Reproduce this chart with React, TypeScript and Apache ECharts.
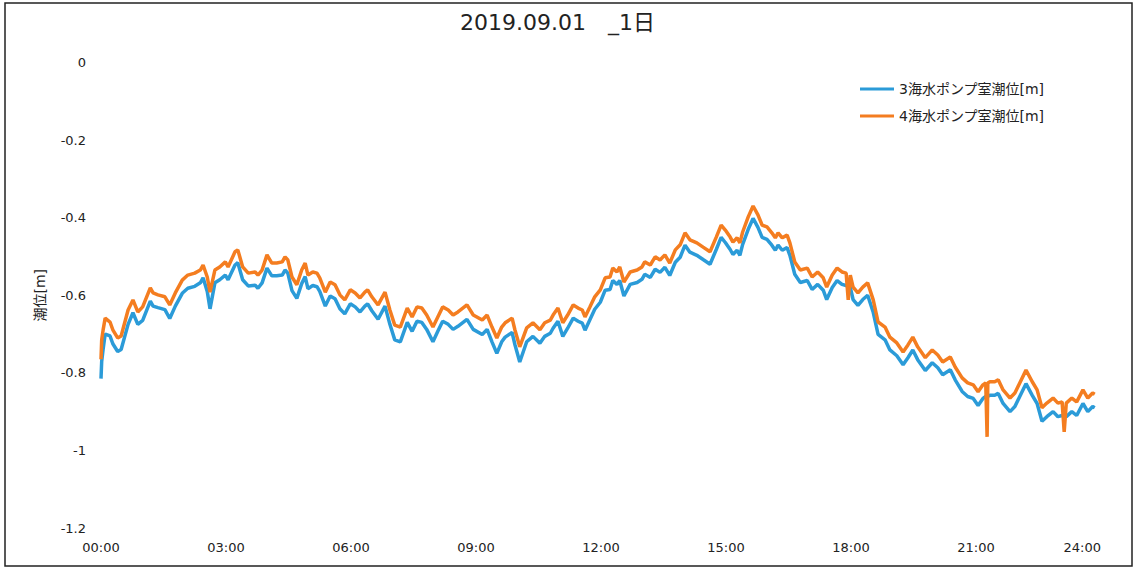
import React, { useEffect, useRef } from "react";
import * as echarts from "echarts";

const TITLE = "2019.09.01\u3000_1日";
const SERIES_NAMES = ["3海水ポンプ室潮位[m]", "4海水ポンプ室潮位[m]"];
const Y_NAME = "潮位[m]";

// time in minutes since 00:00
const TIMES = [
  0, 1, 3, 6, 13, 17, 24, 29, 39, 46, 53, 60, 71, 75, 82, 92, 99, 107, 117, 125,
  135, 143, 147, 153, 157, 164, 171, 179, 183, 193, 197, 204, 212, 222, 226, 232, 239, 246, 253, 261,
  265, 269, 275, 282, 289, 294, 298, 305, 311, 315, 323, 330, 337, 344, 351, 359, 366, 373, 380, 384,
  390, 399, 409, 416, 423, 431, 441, 448, 455, 462, 469, 478, 485, 492, 500, 507, 514, 527, 536, 549,
  556, 563, 570, 577, 582, 592, 596, 603, 613, 622, 632, 639, 647, 651, 658, 665, 672, 680, 687, 693,
  697, 704, 711, 719, 726, 733, 737, 743, 747, 753, 762, 772, 779, 783, 791, 798, 805, 812, 819, 827,
  834, 841, 848, 858, 867, 877, 886, 893, 899, 906, 910, 916, 920, 924, 932, 939, 946, 952, 959, 966,
  971, 975, 981, 988, 992, 999, 1007, 1017, 1024, 1032, 1040, 1045, 1053, 1060, 1067, 1073, 1076, 1079, 1083, 1090,
  1097, 1104, 1112, 1119, 1129, 1136, 1146, 1155, 1162, 1169, 1176, 1187, 1197, 1205, 1212, 1223, 1230, 1240, 1248, 1256,
  1263, 1270, 1274, 1276, 1277, 1280, 1287, 1292, 1299, 1309, 1316, 1323, 1332, 1341, 1348, 1355, 1362, 1371, 1378, 1384,
  1387, 1390, 1398, 1405, 1414, 1421, 1428, 1431,
];

const PUMP3 = [
  -0.815, -0.77, -0.74, -0.7, -0.705, -0.725, -0.745, -0.74, -0.675, -0.645, -0.675, -0.665, -0.615, -0.628, -0.632, -0.637, -0.66, -0.628, -0.595, -0.582,
  -0.577, -0.568, -0.555, -0.59, -0.635, -0.568, -0.56, -0.548, -0.56, -0.522, -0.516, -0.56, -0.576, -0.574, -0.582, -0.568, -0.53, -0.55, -0.55, -0.548,
  -0.535, -0.543, -0.588, -0.608, -0.57, -0.552, -0.583, -0.575, -0.578, -0.59, -0.628, -0.602, -0.609, -0.635, -0.648, -0.622, -0.63, -0.643, -0.628, -0.622,
  -0.64, -0.662, -0.628, -0.675, -0.715, -0.72, -0.67, -0.693, -0.667, -0.67, -0.688, -0.72, -0.693, -0.667, -0.675, -0.688, -0.68, -0.662, -0.688, -0.701,
  -0.688, -0.72, -0.75, -0.72, -0.708, -0.696, -0.727, -0.772, -0.72, -0.706, -0.724, -0.706, -0.698, -0.685, -0.667, -0.706, -0.685, -0.659, -0.667, -0.672,
  -0.69, -0.663, -0.636, -0.618, -0.587, -0.585, -0.562, -0.572, -0.562, -0.602, -0.572, -0.567, -0.559, -0.546, -0.554, -0.533, -0.541, -0.528, -0.549, -0.515,
  -0.502, -0.471, -0.489, -0.497, -0.508, -0.52, -0.482, -0.451, -0.464, -0.482, -0.495, -0.484, -0.497, -0.469, -0.43, -0.402, -0.425, -0.451, -0.456, -0.471,
  -0.484, -0.471, -0.484, -0.477, -0.497, -0.546, -0.567, -0.562, -0.585, -0.572, -0.587, -0.611, -0.58, -0.562, -0.572, -0.575, -0.578, -0.58, -0.611, -0.626,
  -0.611, -0.6, -0.644, -0.701, -0.715, -0.741, -0.756, -0.779, -0.761, -0.741, -0.766, -0.794, -0.774, -0.787, -0.805, -0.792, -0.818, -0.848, -0.861, -0.866,
  -0.884, -0.866, -0.861, -0.861, -0.861, -0.858, -0.858, -0.853, -0.879, -0.9, -0.887, -0.861, -0.828, -0.858, -0.879, -0.925, -0.913, -0.9, -0.913, -0.91,
  -0.908, -0.913, -0.9, -0.91, -0.879, -0.9, -0.887, -0.89,
];

const PUMP4 = [
  -0.765, -0.715, -0.69, -0.659, -0.669, -0.689, -0.71, -0.705, -0.638, -0.612, -0.643, -0.63, -0.581, -0.594, -0.599, -0.604, -0.625, -0.594, -0.561, -0.548,
  -0.543, -0.535, -0.522, -0.553, -0.592, -0.535, -0.527, -0.514, -0.527, -0.488, -0.483, -0.527, -0.543, -0.54, -0.548, -0.535, -0.496, -0.517, -0.517, -0.514,
  -0.501, -0.509, -0.553, -0.573, -0.535, -0.517, -0.548, -0.54, -0.543, -0.555, -0.592, -0.566, -0.573, -0.599, -0.612, -0.586, -0.594, -0.607, -0.592, -0.586,
  -0.604, -0.625, -0.592, -0.638, -0.677, -0.682, -0.633, -0.656, -0.63, -0.633, -0.651, -0.682, -0.656, -0.63, -0.638, -0.651, -0.643, -0.625, -0.651, -0.664,
  -0.651, -0.682, -0.71, -0.682, -0.671, -0.659, -0.689, -0.733, -0.684, -0.671, -0.689, -0.671, -0.664, -0.651, -0.633, -0.671, -0.651, -0.625, -0.633, -0.638,
  -0.656, -0.63, -0.604, -0.586, -0.555, -0.553, -0.53, -0.54, -0.527, -0.566, -0.54, -0.535, -0.527, -0.514, -0.522, -0.501, -0.509, -0.496, -0.517, -0.483,
  -0.47, -0.439, -0.457, -0.465, -0.476, -0.488, -0.45, -0.419, -0.432, -0.45, -0.463, -0.452, -0.465, -0.437, -0.398, -0.37, -0.393, -0.419, -0.424, -0.439,
  -0.452, -0.439, -0.452, -0.445, -0.465, -0.514, -0.535, -0.53, -0.553, -0.54, -0.555, -0.579, -0.548, -0.53, -0.54, -0.543, -0.612, -0.548, -0.579, -0.594,
  -0.579, -0.568, -0.612, -0.669, -0.682, -0.708, -0.723, -0.746, -0.728, -0.708, -0.733, -0.761, -0.741, -0.754, -0.772, -0.759, -0.785, -0.813, -0.826, -0.831,
  -0.849, -0.831, -0.826, -0.965, -0.826, -0.823, -0.823, -0.818, -0.844, -0.865, -0.852, -0.826, -0.793, -0.823, -0.844, -0.89, -0.878, -0.865, -0.878, -0.875,
  -0.952, -0.878, -0.865, -0.875, -0.844, -0.865, -0.852, -0.855,
];

const COLORS = ["#2b9bd8", "#f47d20"];
const FONT = "'DejaVu Sans', 'Noto Sans CJK JP', sans-serif";

export default function App() {
  const ref = useRef<HTMLDivElement>(null);
  useEffect(() => {
    if (!ref.current) return;
    const chart = echarts.init(ref.current, undefined, { renderer: "svg" });
    const mk = (vals: number[]) => TIMES.map((t, i) => [t, vals[i]]);
    chart.setOption({
      animation: false,
      backgroundColor: "#ffffff",
      textStyle: { fontFamily: FONT },
      title: {
        text: TITLE,
        left: 455,
        top: 6,
        textStyle: { fontFamily: FONT, fontSize: 22, fontWeight: "normal", color: "#222" },
      },
      legend: {
        orient: "vertical",
        left: 855,
        top: 77,
        itemWidth: 34,
        itemHeight: 3,
        itemGap: 13,
        icon: "rect",
        textStyle: { fontFamily: FONT, fontSize: 14, color: "#222" },
        data: SERIES_NAMES,
      },
      grid: { left: 101, top: 62.5, width: 1000, height: 465.5, containLabel: false },
      xAxis: {
        type: "value",
        min: 0,
        max: 1440,
        interval: 180,
        axisLine: { show: false },
        axisTick: { show: false },
        splitLine: { show: false },
        axisLabel: {
          margin: 13,
          fontSize: 13,
          color: "#222",
          fontFamily: FONT,
          alignMaxLabel: "right",
          formatter: (v: number) => String(Math.round(v / 60)).padStart(2, "0") + ":00",
        },
      },
      yAxis: {
        type: "value",
        min: -1.2,
        max: 0,
        interval: 0.2,
        name: Y_NAME,
        nameLocation: "middle",
        nameGap: 54,
        nameTextStyle: { fontFamily: FONT, fontSize: 14, color: "#222" },
        axisLine: { show: false },
        axisTick: { show: false },
        splitLine: { show: false },
        axisLabel: {
          margin: 15,
          fontSize: 13,
          color: "#222",
          fontFamily: FONT,
          formatter: (v: number) => String(parseFloat(v.toFixed(1))),
        },
      },
      series: [
        {
          name: SERIES_NAMES[0],
          type: "line",
          data: mk(PUMP3),
          showSymbol: false,
          symbol: "none",
          lineStyle: { width: 3.5, color: COLORS[0] },
          itemStyle: { color: COLORS[0] },
        },
        {
          name: SERIES_NAMES[1],
          type: "line",
          data: mk(PUMP4),
          showSymbol: false,
          symbol: "none",
          lineStyle: { width: 3.5, color: COLORS[1] },
          itemStyle: { color: COLORS[1] },
        },
      ],
      graphic: [
        {
          type: "rect",
          shape: { x: 5, y: 3, width: 1127, height: 563 },
          style: { fill: "none", stroke: "#222", lineWidth: 1.5 },
          silent: true,
        },
      ],
    });
    return () => chart.dispose();
  }, []);
  return (
    <div
      ref={ref}
      style={{ position: "fixed", left: 0, top: 0, width: 1135, height: 570 }}
    />
  );
}
